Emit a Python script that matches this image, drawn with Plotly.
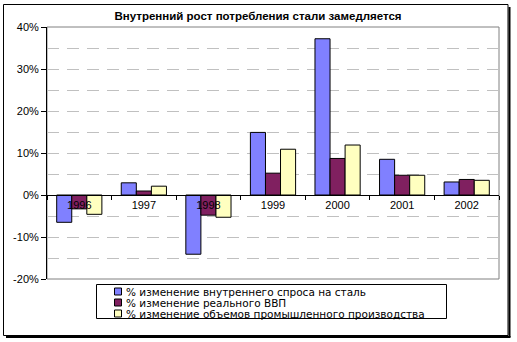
import plotly.graph_objects as go

years = ["1996", "1997", "1998", "1999", "2000", "2001", "2002"]
series_names = [
    "% изменение внутреннего спроса на сталь",
    "% изменение реального ВВП",
    "% изменение объемов промышленного производства",
]
steel_demand = [-6.5, 2.9, -14.1, 14.9, 37.2, 8.5, 3.1]
real_gdp = [-3.3, 0.95, -4.8, 5.2, 8.7, 4.7, 3.7]
industrial = [-4.6, 2.1, -5.3, 10.9, 11.9, 4.7, 3.5]
colors = ["#8080FF", "#802060", "#FFFFC0"]
title = "Внутренний рост потребления стали замедляется"
y_ticks = [-20, -10, 0, 10, 20, 30, 40]
y_labels = ["-20%", "-10%", "0%", "10%", "20%", "30%", "40%"]

W, H = 517, 342
L, R, T, B = 47, 18, 27, 63
pw, ph = W - L - R, H - T - B

def px(x):
    return (x - L) / pw

def py(y):
    return (H - B - y) / ph

FONT = "Arial, Liberation Sans, sans-serif"
LFONT = "DejaVu Sans, sans-serif"

fig = go.Figure()
for name, vals, col in zip(series_names, [steel_demand, real_gdp, industrial], colors):
    fig.add_trace(go.Bar(x=years, y=vals, name=name, marker=dict(color=col, line=dict(color="black", width=1)),
                         showlegend=False))

ymin, ymax = -20, 40
fig.update_layout(
    width=W, height=H,
    margin=dict(l=L, r=R, t=T, b=B),
    paper_bgcolor="white", plot_bgcolor="white",
    barmode="group", bargap=0.3, bargroupgap=0,
    font=dict(family=FONT, size=11, color="black"),
    title=dict(text="<b>" + title + "</b>", x=258 / W, xanchor="center",
               y=1 - 16 / H, yanchor="middle", font=dict(size=11.5, family=FONT)),
    xaxis=dict(anchor="free", position=(0 - ymin) / (ymax - ymin), showline=True, linecolor="black", linewidth=1,
               ticks="outside", ticklen=4, tickcolor="black", tickson="boundaries", showgrid=False,
               tickfont=dict(size=11, family=FONT)),
    yaxis=dict(range=[ymin, ymax], tickvals=y_ticks, ticktext=y_labels, showline=True, linecolor="black",
               linewidth=1, ticks="outside", ticklen=5, tickcolor="black", zeroline=False,
               showgrid=True, gridcolor="#C0C0C0", griddash="12px,8px", gridwidth=1,
               minor=dict(dtick=5, showgrid=True, gridcolor="#C0C0C0", griddash="12px,8px", ticks=""),
               tickfont=dict(size=11, family=FONT)),
)

# plot area frame (gray) and outer chart border
fig.add_shape(type="rect", xref="paper", yref="paper", x0=0, x1=1, y0=0, y1=1,
              line=dict(color="#808080", width=1), layer="below")
fig.add_shape(type="rect", xref="paper", yref="paper", x0=px(3.5), x1=px(508), y0=py(4.5), y1=py(335.5),
              line=dict(color="black", width=1))
fig.add_shape(type="line", xref="paper", yref="paper", x0=px(509.5), x1=px(509.5), y0=py(7), y1=py(337),
              line=dict(color="black", width=2))
fig.add_shape(type="line", xref="paper", yref="paper", x0=px(6), x1=px(510.5), y0=py(337), y1=py(337),
              line=dict(color="black", width=2))

# manual legend
lx0, lx1, ly0, ly1 = 96.5, 446.5, 284.5, 318.5
fig.add_shape(type="rect", xref="paper", yref="paper", x0=px(lx0), x1=px(lx1), y0=py(ly0), y1=py(ly1),
              line=dict(color="black", width=1), fillcolor="white")
for i, (name, col) in enumerate(zip(series_names, colors)):
    cy = 291.5 + i * 11
    fig.add_shape(type="rect", xref="paper", yref="paper", x0=px(114.5), x1=px(121.5), y0=py(cy - 3.5), y1=py(cy + 3.5),
                  line=dict(color="black", width=1), fillcolor=col)
    fig.add_annotation(xref="paper", yref="paper", x=px(124), y=py(cy), text=name, showarrow=False,
                       xanchor="left", yanchor="middle", font=dict(size=10.5, family=LFONT))

fig.write_html("out.html")
